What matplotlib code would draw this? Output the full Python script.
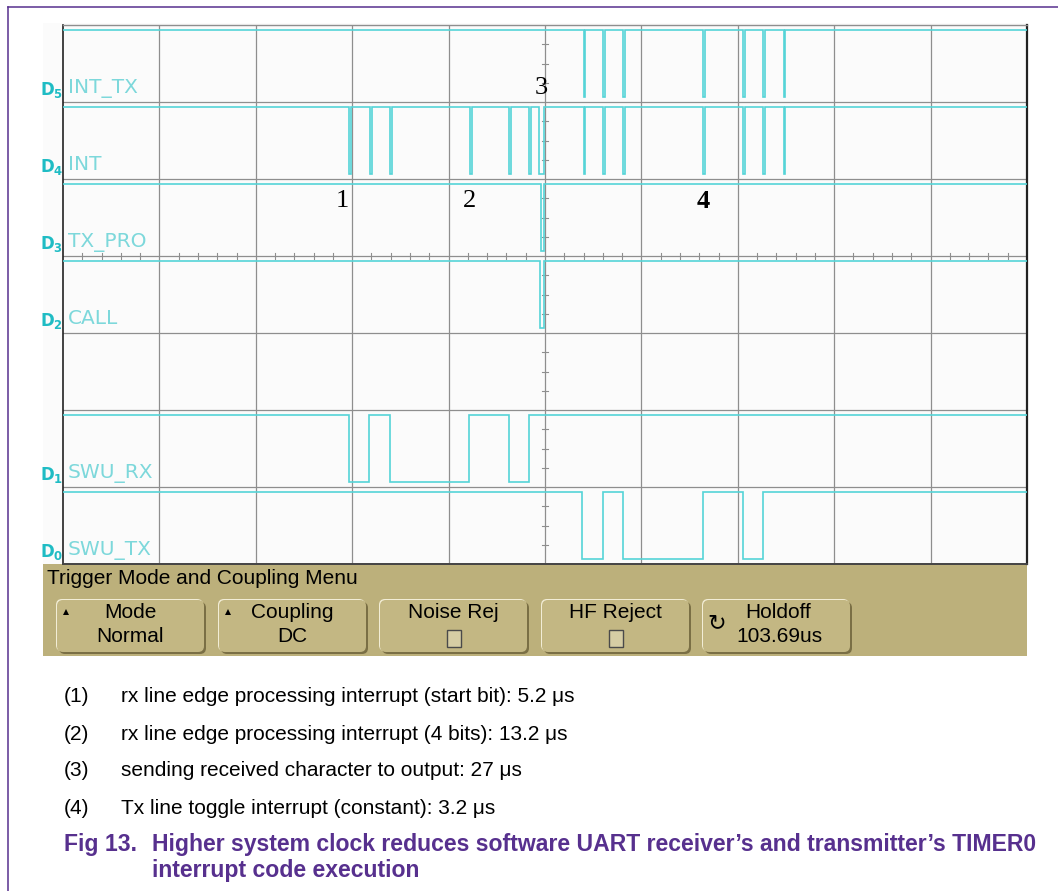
import matplotlib
matplotlib.use("Agg")
import matplotlib.pyplot as plt
from matplotlib.patches import Rectangle, FancyBboxPatch, Polygon
from matplotlib import font_manager as fm

W, H, DPI = 1058, 891, 100

# ---------------- data (time in microseconds, 250 us/div, 10 div) ----------------
time_per_div = 250
n_div = 10
lane_names = ["INT_TX", "INT", "TX_PRO", "CALL", "", "SWU_RX", "SWU_TX"]
lane_ids = ["5", "4", "3", "2", "", "1", "0"]

# low-going interrupt pulses: start time (us) and width (us)
int_tx_starts = [1350.4, 1401.2, 1453.1, 1660.5, 1764.3, 1816.1, 1869.0]
int_tx_widths = [3.2, 3.2, 3.2, 3.2, 3.2, 3.2, 3.2]
int_starts = [742.5, 795.4, 847.3, 1055.5, 1157.4, 1208.5, 1235.2,
              1350.4, 1401.2, 1453.1, 1660.5, 1764.3, 1816.1, 1869.0]
int_widths = [5.2, 5.2, 5.2, 5.2, 5.2, 5.2, 11.4,
              3.2, 3.2, 3.2, 3.2, 3.2, 3.2, 3.2]
tx_pro_starts = [1238.6]
tx_pro_widths = [7.8]
call_starts = [1236.0]
call_widths = [10.4]
# UART lines: toggle times (us), idle high
swu_rx_edges = [742.5, 794.3, 847.3, 1053.0, 1156.0, 1208.0]
swu_tx_edges = [1346.9, 1399.8, 1451.6, 1659.0, 1763.5, 1816.1]

markers = ["1", "2", "3", "4"]
marker_bold = [False, False, False, True]

menu_title = "Trigger Mode and Coupling Menu"
button_top = ["Mode", "Coupling", "Noise Rej", "HF Reject", "Holdoff"]
button_bottom = ["Normal", "DC", "", "", "103.69us"]

notes = ["(1)", "(2)", "(3)", "(4)"]
note_texts = ["rx line edge processing interrupt (start bit): 5.2 \u03bcs",
              "rx line edge processing interrupt (4 bits): 13.2 \u03bcs",
              "sending received character to output: 27 \u03bcs",
              "Tx line toggle interrupt (constant): 3.2 \u03bcs"]
fig_label = "Fig 13."
fig_title = ["Higher system clock reduces software UART receiver\u2019s and transmitter\u2019s TIMER0",
             "interrupt code execution"]


def pick(*names):
    for n in names:
        try:
            fm.findfont(fm.FontProperties(family=n), fallback_to_default=False)
            return n
        except Exception:
            pass
    return "DejaVu Sans"


SANS = pick("Liberation Sans", "Arimo", "DejaVu Sans")
SERIF = pick("Liberation Serif", "DejaVu Serif")
SCOPE = pick("DejaVu Sans")
plt.rcParams["mathtext.fontset"] = "dejavusans"

TRACE = "#55d4d7"
GRID = "#8e8e8e"
LABEL = "#7dd8db"
DLAB = "#1fbcc4"
PURPLE = "#57308e"
TAN = "#bcb07b"

fig = plt.figure(figsize=(W / DPI, H / DPI), dpi=DPI)
fig.patch.set_facecolor("white")

# overlay axes in pixel coordinates (background items)
ov = fig.add_axes([0, 0, 1, 1], zorder=-1)
ov.set_xlim(0, W)
ov.set_ylim(H, 0)
ov.axis("off")

# page border lines
ov.plot([8, 8], [7, H], color=PURPLE, lw=1.1)
ov.plot([8, W], [7, 7], color=PURPLE, lw=1.1)

# scope screen background
ov.add_patch(Rectangle((43, 23), 1027 - 43, 564 - 23, facecolor="#fbfbfb", edgecolor="none"))
# menu bar
ov.add_patch(Rectangle((43, 564), 1027 - 43, 656 - 564, facecolor=TAN, edgecolor="none"))

# ---------------- scope axes ----------------
L, R, T, B = 63, 1027, 25, 564
ax = fig.add_axes([L / W, 1 - B / H, (R - L) / W, (B - T) / H], zorder=1)
ax.set_facecolor("#fbfbfb")
t_end = time_per_div * n_div
n_lanes = len(lane_names)
ax.set_xlim(0, t_end)
ax.set_ylim(0, n_lanes)
ax.set_xticks([])
ax.set_yticks([])
ax.spines["top"].set_color(GRID)
ax.spines["top"].set_linewidth(1.0)
ax.spines["left"].set_color("#222222")
ax.spines["left"].set_linewidth(1.2)
ax.spines["right"].set_color("#222222")
ax.spines["right"].set_linewidth(1.6)
ax.spines["bottom"].set_color("#444444")
ax.spines["bottom"].set_linewidth(1.4)

for k in range(1, n_div):
    ax.axvline(k * time_per_div, color=GRID, lw=0.9, zorder=1)
for k in range(1, n_lanes):
    ax.axhline(k, color=GRID, lw=0.9, zorder=1)

# centre tick axes
cy = 4
cx = t_end / 2
px_x = (R - L) / t_end          # pixels per us
px_y = (B - T) / n_lanes        # pixels per lane
for k in range(n_div * 5 + 1):
    t = k * time_per_div / 5
    if k % 5:
        ax.plot([t, t], [cy - 3 / px_y, cy + 3 / px_y], color=GRID, lw=0.8, zorder=1)
for k in range(n_lanes * 4 + 1):
    y = k / 4
    if k % 4:
        ax.plot([cx - 3 / px_x, cx + 3 / px_x], [y, y], color=GRID, lw=0.8, zorder=1)

HI_OFF = 5 / px_y
LO_OFF = 4.7 / px_y


def lane_levels(i):
    top = n_lanes - i
    return top - HI_OFF, top - 1 + LO_OFF


def pulse_wave(starts, widths, hi, lo):
    xs, ys = [0], [hi]
    for s, w in zip(starts, widths):
        xs += [s, s, s + w, s + w]
        ys += [hi, lo, lo, hi]
    xs.append(t_end)
    ys.append(hi)
    return xs, ys


def toggle_wave(edges, hi, lo):
    xs, ys = [0], [hi]
    lvl = hi
    for e in edges:
        xs += [e, e]
        nxt = lo if lvl == hi else hi
        ys += [lvl, nxt]
        lvl = nxt
    xs.append(t_end)
    ys.append(lvl)
    return xs, ys


waves = [
    pulse_wave(int_tx_starts, int_tx_widths, *lane_levels(0)),
    pulse_wave(int_starts, int_widths, *lane_levels(1)),
    pulse_wave(tx_pro_starts, tx_pro_widths, *lane_levels(2)),
    pulse_wave(call_starts, call_widths, *lane_levels(3)),
    None,
    toggle_wave(swu_rx_edges, *lane_levels(5)),
    toggle_wave(swu_tx_edges, *lane_levels(6)),
]
for w in waves:
    if w is None:
        continue
    ax.plot(w[0], w[1], color=TRACE, lw=1.2, zorder=3, solid_joinstyle="miter")

# ---------------- texts ----------------
P = ov.transData


def ftext(x, y, s, **kw):
    return fig.text(x, y, s, transform=P, **kw)


for i, (nm, did) in enumerate(zip(lane_names, lane_ids)):
    if not nm:
        continue
    base = T + (i + 1) * px_y - 9
    ftext(68, base, nm, fontsize=14.5, color=LABEL, family=SCOPE, va="baseline", ha="left")
    ftext(40, base + 2, r"$\mathbf{D_{%s}}$" % did, fontsize=12, color=DLAB,
          va="baseline", ha="left")

marker_pos = [(342, 201), (470, 201), (541.5, 88), (703, 202)]
for m, b, (x, y) in zip(markers, marker_bold, marker_pos):
    ftext(x, y, m, fontsize=19, family=SERIF, color="black", ha="center", va="center",
          fontweight="bold" if b else "normal")

# menu
ftext(47, 578, menu_title, fontsize=15, family=SANS, color="black", va="center", ha="left")

btn_x = [57, 219, 380, 542, 703]
btn_w = 147
by0, by1 = 600, 652
for k, bx in enumerate(btn_x):
    ov.add_patch(FancyBboxPatch((bx + 2, by0 + 2), btn_w, by1 - by0,
                                boxstyle="round,pad=0,rounding_size=6",
                                facecolor="#7a6f45", edgecolor="none"))
    ov.add_patch(FancyBboxPatch((bx - 1, by0 - 1), btn_w, by1 - by0,
                                boxstyle="round,pad=0,rounding_size=6",
                                facecolor="#f2edd6", edgecolor="none"))
    ov.add_patch(FancyBboxPatch((bx, by0), btn_w, by1 - by0,
                                boxstyle="round,pad=0,rounding_size=6",
                                facecolor="#c3b783", edgecolor="none"))
    cxb = bx + btn_w / 2
    if k == 4:
        ftext(cxb + 2, 613, button_top[k], fontsize=15, family=SANS, ha="center", va="center")
        ftext(cxb + 3, 636, button_bottom[k], fontsize=15, family=SANS, ha="center", va="center")
        ftext(bx + 14, 623, "\u21bb", fontsize=16, family="DejaVu Sans", ha="center", va="center")
    else:
        ftext(cxb, 613, button_top[k], fontsize=15, family=SANS, ha="center", va="center")
        if button_bottom[k]:
            ftext(cxb, 636, button_bottom[k], fontsize=15, family=SANS, ha="center", va="center")
        else:
            ov.add_patch(Rectangle((cxb - 7, 630), 14, 17, facecolor="#d6cda4",
                                   edgecolor="#4a4a4a", lw=1.0))
    if k in (0, 1):
        ov.add_patch(Polygon([[bx + 6, 615], [bx + 12, 615], [bx + 9, 609]],
                             closed=True, facecolor="black", edgecolor="none"))

# notes
for i, (n, s) in enumerate(zip(notes, note_texts)):
    y = 697 + i * 37
    ftext(64, y, n, fontsize=15, family=SANS, color="black", va="center", ha="left")
    ftext(121, y, s, fontsize=15, family=SANS, color="black", va="center", ha="left")

ftext(64, 844, fig_label, fontsize=16.6, family=SANS, fontweight="bold", color=PURPLE,
      va="center", ha="left")
for i, s in enumerate(fig_title):
    ftext(152, 844 + i * 27, s, fontsize=16.6, family=SANS, fontweight="bold", color=PURPLE,
          va="center", ha="left")

fig.savefig("out.png", dpi=DPI)
